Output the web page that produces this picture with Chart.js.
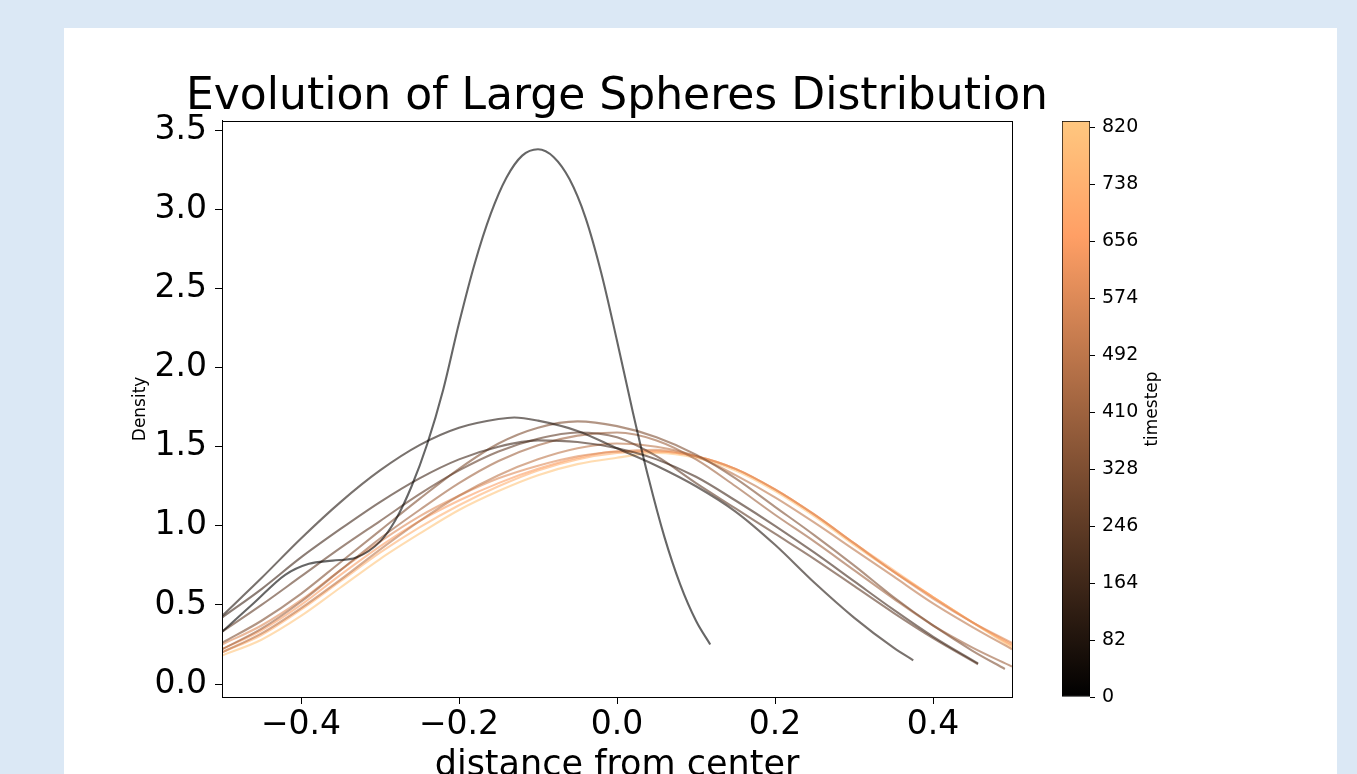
<!DOCTYPE html>
<html><head><meta charset="utf-8">
<script src="https://cdn.jsdelivr.net/npm/chart.js@4.4.1/dist/chart.umd.min.js"></script>
<style>
html,body{margin:0;padding:0;width:1357px;height:774px;overflow:hidden;background:#dbe8f5;}
#card{position:absolute;left:64px;top:28px;width:1273px;height:760px;background:#ffffff;}
#main{position:absolute;left:0;top:0;}
#cbar{position:absolute;left:1000px;top:0;}
</style></head><body>
<div id="card"></div>
<canvas id="main" width="1234" height="800"></canvas>
<canvas id="cbar" width="220" height="774"></canvas>
<script>
// ---- data ----
const timesteps = [0, 82, 164, 246, 328, 410, 492, 574, 656, 738, 820];
const gridX = [-0.5,-0.45,-0.4,-0.35,-0.3,-0.25,-0.2,-0.15,-0.1,-0.05,0,0.05,0.1,0.15,0.2,0.25,0.3,0.35,0.4,0.45,0.5];

const x0 = [-0.5,-0.46,-0.42,-0.39,-0.36,-0.33,-0.3,-0.28,-0.26,-0.24,-0.22,-0.2,-0.18,-0.16,-0.14,-0.12,-0.1,-0.08,-0.06,-0.04,-0.02,0,0.02,0.04,0.06,0.08,0.1,0.118];
const y0 = [0.33,0.51,0.69,0.76,0.78,0.8,0.9,1.04,1.25,1.52,1.86,2.28,2.66,2.97,3.2,3.34,3.38,3.33,3.19,2.95,2.6,2.17,1.72,1.3,0.93,0.63,0.4,0.25];

const x82 = [-0.5,-0.45,-0.4,-0.35,-0.3,-0.25,-0.2,-0.15,-0.13,-0.1,-0.05,0,0.05,0.1,0.15,0.2,0.25,0.3,0.35,0.375];
const y82 = [0.43,0.67,0.92,1.15,1.35,1.51,1.62,1.675,1.685,1.665,1.6,1.49,1.38,1.25,1.09,0.88,0.64,0.42,0.23,0.15];

const x164 = [-0.5,-0.45,-0.4,-0.35,-0.3,-0.25,-0.2,-0.15,-0.1,-0.05,0,0.05,0.1,0.15,0.2,0.25,0.3,0.35,0.4,0.457];
const y164 = [0.42,0.6,0.8,0.98,1.15,1.3,1.42,1.5,1.54,1.53,1.49,1.42,1.31,1.16,1.0,0.83,0.65,0.47,0.3,0.13];

const x246 = [-0.5,-0.45,-0.4,-0.35,-0.3,-0.25,-0.2,-0.15,-0.1,-0.05,0,0.05,0.1,0.15,0.2,0.25,0.3,0.35,0.4,0.457];
const y246 = [0.33,0.5,0.68,0.86,1.03,1.2,1.35,1.47,1.55,1.59,1.56,1.44,1.27,1.11,0.95,0.79,0.62,0.45,0.29,0.125];

const x328 = [-0.5,-0.45,-0.4,-0.35,-0.3,-0.25,-0.2,-0.15,-0.1,-0.05,0,0.05,0.1,0.15,0.2,0.25,0.3,0.35,0.4,0.45,0.491];
const y328 = [0.26,0.4,0.57,0.77,0.97,1.17,1.36,1.52,1.62,1.66,1.63,1.56,1.45,1.3,1.12,0.94,0.75,0.55,0.37,0.21,0.095];

const y410 = [0.22,0.35,0.52,0.72,0.92,1.1,1.27,1.41,1.51,1.57,1.59,1.54,1.42,1.25,1.07,0.9,0.72,0.54,0.37,0.23,0.11];
const y492 = [0.2,0.32,0.48,0.66,0.85,1.03,1.19,1.32,1.42,1.49,1.52,1.5,1.44,1.32,1.18,1.02,0.85,0.68,0.51,0.36,0.22];
const y574 = [0.25,0.37,0.53,0.72,0.9,1.06,1.19,1.3,1.38,1.44,1.47,1.48,1.44,1.36,1.23,1.07,0.89,0.71,0.54,0.39,0.26];
const y656 = [0.22,0.34,0.5,0.69,0.87,1.03,1.16,1.27,1.36,1.43,1.47,1.47,1.44,1.36,1.23,1.07,0.89,0.71,0.55,0.39,0.25];
const y738 = [0.2,0.31,0.47,0.65,0.83,0.99,1.13,1.25,1.35,1.42,1.46,1.47,1.44,1.36,1.23,1.07,0.89,0.72,0.55,0.39,0.24];
const y820 = [0.18,0.28,0.43,0.61,0.79,0.95,1.1,1.22,1.32,1.39,1.43,1.46,1.43,1.35,1.22,1.06,0.88,0.71,0.55,0.39,0.23];

const curveX = [x0, x82, x164, x246, x328, gridX, gridX, gridX, gridX, gridX, gridX];
const curveY = [y0, y82, y164, y246, y328, y410, y492, y574, y656, y738, y820];

const xTicks = [-0.4, -0.2, 0, 0.2, 0.4];
const xTickLabels = ['\u22120.4', '\u22120.2', '0.0', '0.2', '0.4'];
const yTicks = [0, 0.5, 1, 1.5, 2, 2.5, 3, 3.5];
const yTickLabels = ['0.0', '0.5', '1.0', '1.5', '2.0', '2.5', '3.0', '3.5'];
const cbarTicks = [0, 82, 164, 246, 328, 410, 492, 574, 656, 738, 820];
const cbarRange = [0, 829];

// ---- style ----
const FONT = "'DejaVu Sans', sans-serif";
const LINE_ALPHA = 0.6;
function copper(f) {
  return [Math.min(1, 1.25 * f) * 255, 0.7812 * f * 255, 0.4975 * f * 255].map(Math.round);
}
function copperRGBA(f, a) { const c = copper(f); return `rgba(${c[0]},${c[1]},${c[2]},${a})`; }

const datasets = curveY.map((ys, i) => ({
  data: curveX[i].map((x, j) => ({ x: x, y: ys[j] })),
  borderColor: copperRGBA(timesteps[i] / cbarRange[1], LINE_ALPHA),
  borderWidth: 2.1,
  pointRadius: 0,
  fill: false,
  cubicInterpolationMode: 'monotone'
}));

const framePlugin = {
  id: 'frame',
  afterDatasetsDraw(chart) {
    const a = chart.chartArea, ctx = chart.ctx;
    ctx.save();
    ctx.strokeStyle = '#000';
    ctx.lineWidth = 1;
    ctx.strokeRect(Math.round(a.left) + 0.5, Math.round(a.top) + 0.5, Math.round(a.right - a.left), Math.round(a.bottom - a.top));
    ctx.restore();
  }
};

new Chart(document.getElementById('main'), {
  type: 'line',
  data: { datasets: datasets },
  options: {
    responsive: false,
    animation: false,
    devicePixelRatio: 1,
    layout: { padding: { left: 100, right: 100, top: 0, bottom: 0 } },
    plugins: {
      legend: { display: false },
      tooltip: { enabled: false },
      title: {
        display: true,
        text: 'Evolution of Large Spheres Distribution',
        color: '#000',
        font: { family: FONT, size: 44, weight: 'normal', lineHeight: 1.2 },
        padding: { top: 71, bottom: -3 }
      }
    },
    scales: {
      x: {
        type: 'linear', min: -0.5, max: 0.5,
        afterBuildTicks: s => { s.ticks = xTicks.map(v => ({ value: v })); },
        afterFit: s => { s.height = 103; },
        ticks: { callback: (v, i) => xTickLabels[i], font: { family: FONT, size: 33 }, color: '#000', padding: 2, maxRotation: 0, autoSkip: false },
        grid: { drawOnChartArea: false, drawTicks: true, tickLength: 7, color: '#000', lineWidth: 1 },
        border: { display: true, color: '#000', width: 1 },
        title: { display: true, text: 'distance from center', color: '#000', font: { family: FONT, size: 35 }, padding: { top: 0, bottom: 13 } }
      },
      y: {
        type: 'linear', min: -0.082, max: 3.56,
        afterBuildTicks: s => { s.ticks = yTicks.map(v => ({ value: v })); },
        afterFit: s => { s.width = 122; },
        ticks: { callback: (v, i) => yTickLabels[i], font: { family: FONT, size: 33 }, color: '#000', padding: 8, autoSkip: false },
        grid: { drawOnChartArea: false, drawTicks: true, tickLength: 7, color: '#000', lineWidth: 1 },
        border: { display: true, color: '#000', width: 1 },
        title: { display: true, text: 'Density', color: '#000', font: { family: FONT, size: 17 }, padding: { top: 30, bottom: 0 } }
      },
      yPad: {
        type: 'linear', position: 'right', display: true,
        afterFit: s => { s.width = 122; },
        ticks: { display: false },
        grid: { display: false, drawTicks: false },
        border: { display: false }
      }
    }
  },
  plugins: [framePlugin]
});

// ---- colorbar ----
const cbarLabelPlugin = {
  id: 'cbarLabel',
  afterDraw(chart) {
    const a = chart.chartArea, ctx = chart.ctx;
    ctx.save();
    ctx.translate(a.right + 63, (a.top + a.bottom) / 2);
    ctx.rotate(-Math.PI / 2);
    ctx.font = '17px ' + FONT;
    ctx.fillStyle = '#000';
    ctx.textAlign = 'center';
    ctx.textBaseline = 'middle';
    ctx.fillText('timestep', 0, 0);
    ctx.restore();
  }
};

function cbarGradient(context) {
  const chart = context.chart;
  const a = chart.chartArea;
  if (!a) return '#000';
  const g = chart.ctx.createLinearGradient(0, a.bottom, 0, a.top);
  [0, 0.8, 1].forEach(f => { const c = copper(f); g.addColorStop(f, `rgb(${c[0]},${c[1]},${c[2]})`); });
  return g;
}

new Chart(document.getElementById('cbar'), {
  type: 'bar',
  data: {
    labels: ['timestep'],
    datasets: [{
      data: [cbarRange],
      backgroundColor: cbarGradient,
      borderColor: '#000',
      borderWidth: 1,
      borderSkipped: false,
      barPercentage: 1,
      categoryPercentage: 1
    }]
  },
  options: {
    responsive: false,
    animation: false,
    devicePixelRatio: 1,
    layout: { padding: { left: 62, right: 0, top: 121, bottom: 77 } },
    plugins: { legend: { display: false }, tooltip: { enabled: false } },
    scales: {
      x: { display: false },
      y: {
        position: 'right', min: cbarRange[0], max: cbarRange[1],
        afterBuildTicks: s => { s.ticks = cbarTicks.map(v => ({ value: v })); },
        afterFit: s => { s.width = 130; },
        ticks: { font: { family: FONT, size: 19 }, color: '#000', padding: 7, autoSkip: false },
        grid: { drawOnChartArea: false, drawTicks: true, tickLength: 5, color: '#000' },
        border: { display: false }
      }
    }
  },
  plugins: [cbarLabelPlugin]
});
</script>
</body></html>
